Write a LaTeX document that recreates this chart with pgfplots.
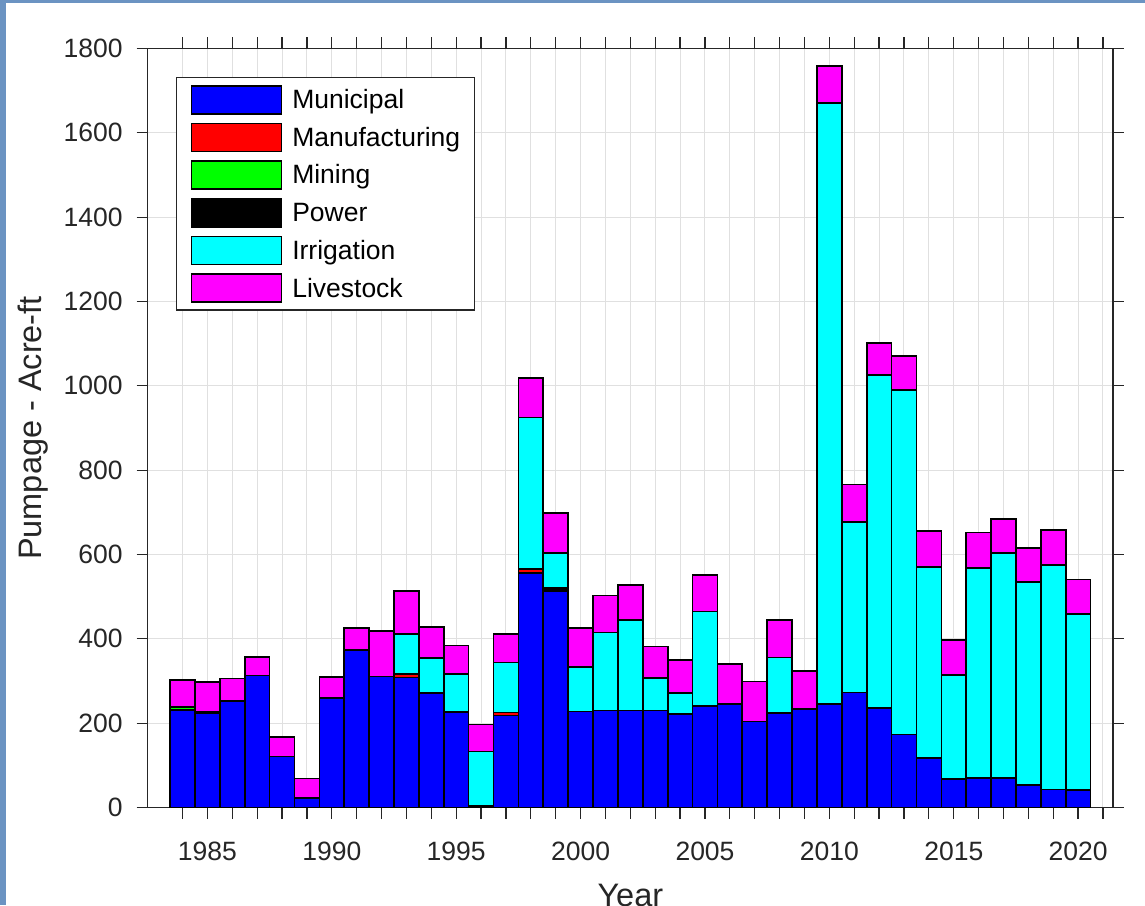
\documentclass[border=0pt]{standalone}
\usepackage{pgfplots}
\pgfplotsset{compat=1.18}
\usepackage{pgfplotstable}
\usepackage{fontspec}
\setmainfont{Liberation Sans}
\definecolor{frameblue}{HTML}{6B93C2}
\definecolor{axgray}{HTML}{262626}
\definecolor{gridgray}{HTML}{E0E0E0}
\definecolor{cMun}{RGB}{0,0,255}
\definecolor{cMan}{RGB}{255,0,0}
\definecolor{cMin}{RGB}{0,255,0}
\definecolor{cPow}{RGB}{0,0,0}
\definecolor{cIrr}{RGB}{0,255,255}
\definecolor{cLiv}{RGB}{255,0,255}
\pgfplotstableread{
year mun man min pow irr liv
1984 232 0 7 0 0 64
1985 224 0 0 2 0 71
1986 252 0 0 0 0 54
1987 313 0 0 0 0 44
1988 121 0 0 0 0 46
1989 21 0 0 3 0 45
1990 260 0 0 0 0 50
1991 373 0 0 0 0 52
1992 311 0 0 0 0 108
1993 308 8 0 0 96 102
1994 272 0 0 0 83 73
1995 227 0 0 0 90 67
1996 3 0 0 0 130 64
1997 218 7 0 0 119 68
1998 556 10 0 0 359 93
1999 514 0 0 6 83 96
2000 228 0 0 0 105 92
2001 230 0 0 0 185 88
2002 230 0 0 0 214 83
2003 230 0 0 0 77 75
2004 222 0 0 0 50 77
2005 240 0 0 0 225 86
2006 246 0 0 0 0 95
2007 204 0 0 0 0 95
2008 224 0 0 0 132 89
2009 234 0 0 0 0 90
2010 246 0 0 0 1425 87
2011 273 0 0 0 404 89
2012 236 0 0 0 790 75
2013 173 0 0 0 817 81
2014 118 0 0 0 453 85
2015 68 0 0 0 247 83
2016 70 0 0 0 498 84
2017 70 0 0 0 533 81
2018 54 0 0 0 480 81
2019 43 0 0 0 532 83
2020 41 0 0 0 418 82
}\datatable
\begin{document}
\begin{tikzpicture}[x=1pt,y=1pt]
\useasboundingbox (0,0) rectangle (1145,905);
\clip (0,0) rectangle (1145,905);
\fill[white] (0,0) rectangle (1145,905);
\fill[frameblue] (0,0) rectangle (6,905);
\fill[frameblue] (0,902) rectangle (1145,905);
\begin{axis}[
  at={(147.7pt,97.5pt)}, anchor=south west,
  scale only axis, width=965.3pt, height=759pt,
  xmin=1982.6, xmax=2021.4, ymin=0, ymax=1800,
  ybar stacked, bar width=1,
  xtick={1985,1990,...,2020}, minor xtick={1984,...,2021},
  ytick={0,200,...,1800},
  tick align=outside, major tick length=11pt, minor tick length=11pt,
  xmajorgrids, xminorgrids, ymajorgrids,
  major grid style={gridgray, line width=1pt},
  minor grid style={gridgray, line width=1pt},
  axis line style={axgray, line width=1.3pt},
  tick style={axgray, line width=1.3pt},
  tick label style={font=\fontsize{26.5}{30}\selectfont, text=axgray, inner sep=0pt},
  xticklabel style={anchor=base, yshift=-42pt},
  yticklabel style={anchor=east, xshift=-14pt},
  xlabel={Year},
  xlabel style={font=\fontsize{32.5}{36}\selectfont, text=axgray, inner sep=0pt, at={(axis description cs:0.5,-0.1302)}, anchor=base},
  ylabel={Pumpage - Acre-ft},
  ylabel style={font=\fontsize{32.5}{36}\selectfont, text=axgray, inner sep=0pt, at={(axis description cs:-0.1098,0.5)}, anchor=base},
  legend style={at={(axis description cs:0.0293,0.9621)}, anchor=north west, draw=axgray, line width=1.2pt, fill=white,
    font=\fontsize{26.5}{30}\selectfont, inner xsep=14pt, inner ysep=7pt, row sep=8.0pt, nodes={inner sep=0pt},
    /tikz/every odd column/.append style={column sep=10pt}},
  legend cell align=left,
  /pgf/number format/1000 sep={},
  /pgf/number format/assume math mode=true,
]
\pgfplotsset{mybar/.style={draw=black, line width=1.7pt, legend image code/.code={\draw[##1] (0pt,-14pt) rectangle (90pt,14pt);}}}
\addplot[mybar, fill=cMun] table[x=year,y=mun]{\datatable};
\addplot[mybar, fill=cMan] table[x=year,y=man]{\datatable};
\addplot[mybar, fill=cMin] table[x=year,y=min]{\datatable};
\addplot[mybar, fill=cPow] table[x=year,y=pow]{\datatable};
\addplot[mybar, fill=cIrr] table[x=year,y=irr]{\datatable};
\addplot[mybar, fill=cLiv] table[x=year,y=liv]{\datatable};
\legend{Municipal,Manufacturing,Mining,Power,Irrigation,Livestock}
\end{axis}
\end{tikzpicture}
\end{document}
